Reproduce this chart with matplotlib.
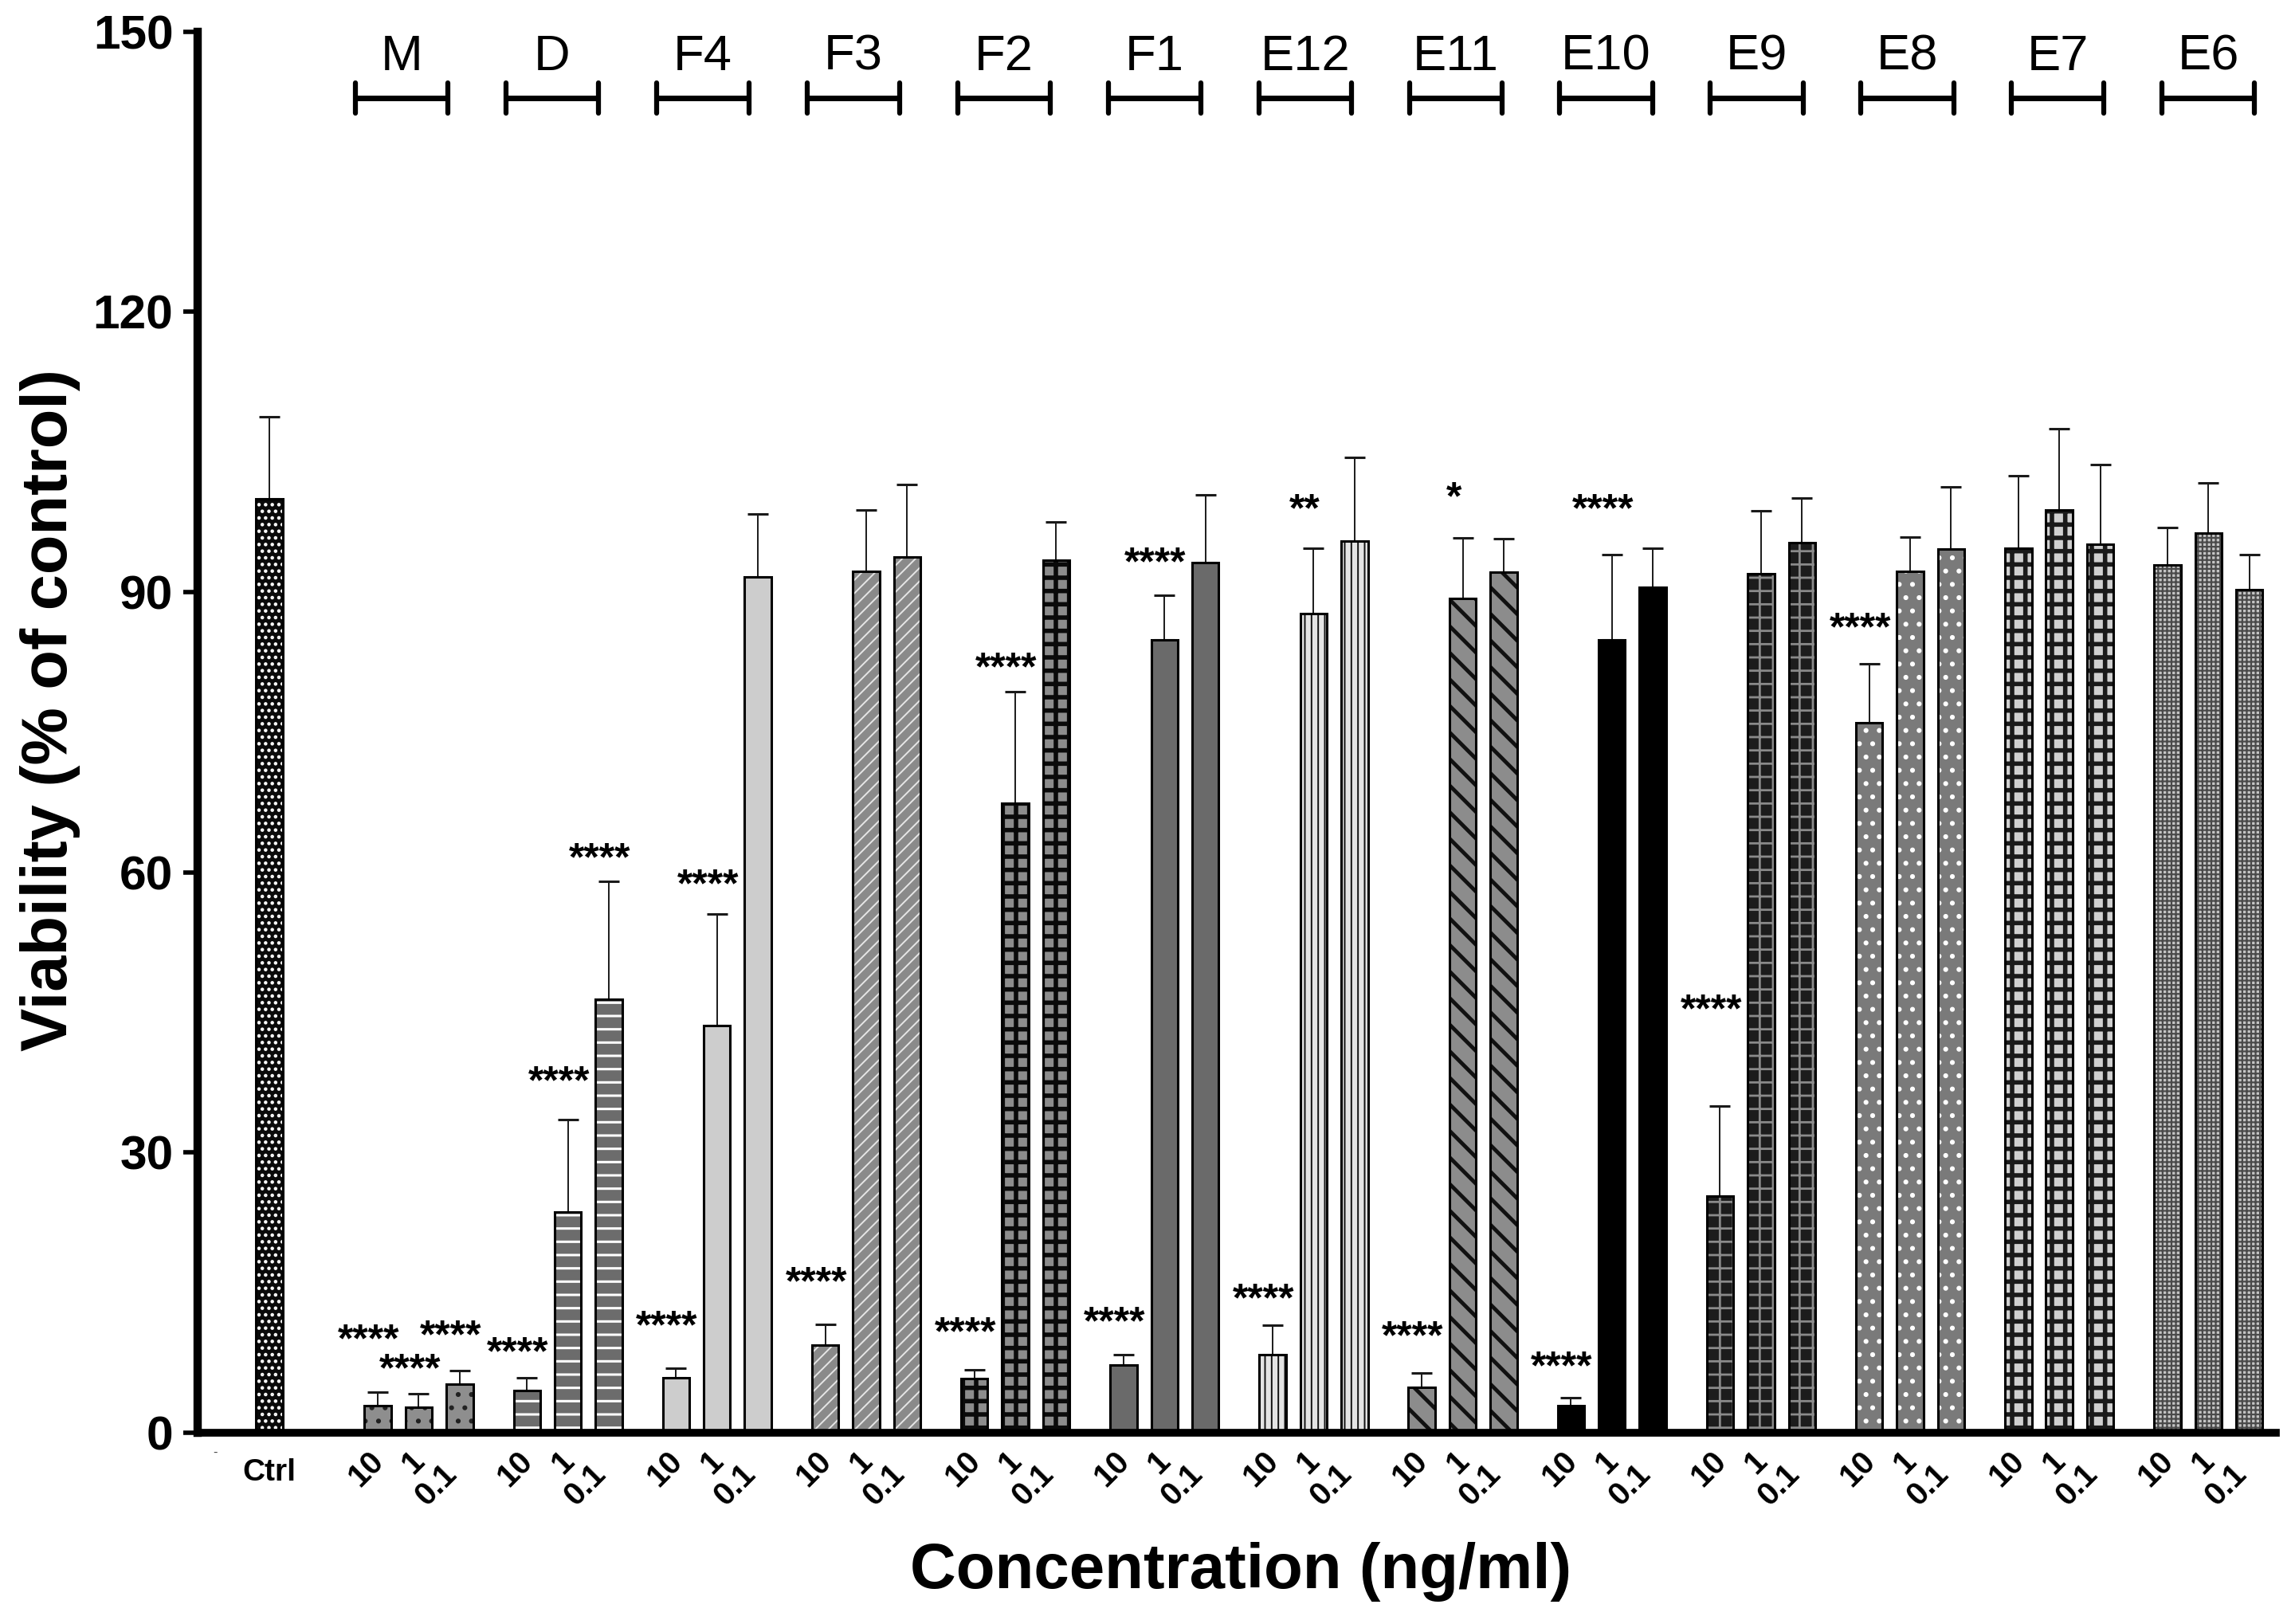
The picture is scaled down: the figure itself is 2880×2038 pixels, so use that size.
import matplotlib
matplotlib.use('Agg')
import matplotlib.pyplot as plt
import numpy as np
from matplotlib.transforms import offset_copy

plt.rcParams['font.family'] = ['Liberation Sans', 'DejaVu Sans']
plt.rcParams['hatch.linewidth'] = 1.5

# ---------------- data ----------------
ctrl_label = 'Ctrl'
ctrl_mean = 100.0
ctrl_sd = 8.8

groups = ['M', 'D', 'F4', 'F3', 'F2', 'F1', 'E12', 'E11', 'E10', 'E9', 'E8', 'E7', 'E6']
concs = ['10', '1', '0.1']

means = [
    [2.9, 2.7, 5.2],     # M
    [4.5, 23.6, 46.4],   # D
    [5.9, 43.6, 91.6],   # F4
    [9.4, 92.2, 93.8],   # F3
    [5.8, 67.4, 93.4],   # F2
    [7.2, 84.9, 93.2],   # F1
    [8.3, 87.7, 95.5],   # E12
    [4.8, 89.3, 92.1],   # E11
    [2.9, 84.9, 90.5],   # E10
    [25.3, 92.0, 95.3],  # E9
    [76.0, 92.2, 94.6],  # E8
    [94.7, 98.8, 95.1],  # E7
    [92.9, 96.3, 90.3],  # E6
]
sds = [
    [1.4, 1.5, 1.4],
    [1.4, 9.9, 12.6],
    [1.0, 11.9, 6.8],
    [2.2, 6.6, 7.7],
    [0.9, 11.9, 4.1],
    [1.1, 4.8, 7.2],
    [3.2, 7.0, 8.9],
    [1.6, 6.5, 3.6],
    [0.8, 9.1, 4.2],
    [9.7, 6.7, 4.8],
    [6.3, 3.7, 6.7],
    [7.8, 8.7, 8.6],
    [4.0, 5.4, 3.7],
]

# significance marks: group, concentration index, label, y of mark centre
star_groups = ['M', 'M', 'M', 'D', 'D', 'D', 'F4', 'F4', 'F3', 'F2', 'F2', 'F1', 'F1',
               'E12', 'E12', 'E11', 'E11', 'E10', 'E10', 'E9', 'E8']
star_conc = [0, 1, 2, 0, 1, 2, 0, 1, 0, 0, 1, 0, 1, 0, 1, 0, 1, 0, 1, 0, 0]
star_text = ['****', '****', '****', '****', '****', '****', '****', '****', '****', '****',
             '****', '****', '****', '****', '**', '****', '*', '****', '****', '****', '****']
star_y = [10.8, 7.6, 11.2, 9.4, 38.4, 62.3, 12.2, 59.5, 16.9, 11.5, 82.7, 12.6, 94.0,
          15.1, 99.7, 11.1, 101.0, 7.9, 99.7, 46.1, 87.0]

yticks = [0, 30, 60, 90, 120, 150]

# ---------------- styles ----------------
# face colour, hatch, hatch colour, hatch linewidth
styles = {
    'Ctrl': ('#0a0a0a', '..', 'white', 2.0),
    'M':   ('#8e8e8e', '.', '#222222', 2.0),
    'D':   ('#6c6c6c', '-', 'white', 2.2),
    'F4':  ('#cdcdcd', None, None, 0),
    'F3':  ('#8a8a8a', '//', '#e6e6e6', 1.4),
    'F2':  ('#8c8c8c', '+', '#0a0a0a', 4.0),
    'F1':  ('#6a6a6a', None, None, 0),
    'E12': ('#e4e4e4', '||', '#111111', 1.4),
    'E11': ('#8c8c8c', '\\', '#111111', 3.5),
    'E10': ('#000000', None, None, 0),
    'E9':  ('#1c1c1c', '+', '#8a8a8a', 2.0),
    'E8':  ('#7a7a7a', '.', 'white', 2.0),
    'E7':  ('#d0d0d0', '+', '#1a1a1a', 4.0),
    'E6':  ('#c4c4c4', '+++', '#4a4a4a', 1.6),
}

W = 0.65
ctrl_gap = 2.647
group_step = 3.642

fig = plt.figure(figsize=(28.8, 20.38), dpi=100)
ax = fig.add_axes([0.0861, 0.1179, 0.9056, 0.8625])


def draw_bar(x, h, sd, key):
    face, hatch, hcol, hlw = styles[key]
    ax.bar(x, h, width=W, color=face, edgecolor='none', linewidth=0, zorder=2)
    if hatch:
        bb = ax.bar(x, h, width=W, facecolor='none', edgecolor=hcol, hatch=hatch,
                    linewidth=0, zorder=2.1)
        for p in bb:
            if hasattr(p, 'set_hatch_linewidth'):
                p.set_hatch_linewidth(hlw)
    ax.bar(x, h, width=W, facecolor='none', edgecolor='black', linewidth=2.2, zorder=2.2)
    ax.errorbar([x], [h], yerr=[[0], [sd]], fmt='none', ecolor='#1a1a1a',
                elinewidth=1.4, capsize=9.5, capthick=2.2, zorder=1.5)


# control
x_ctrl = 0.0
draw_bar(x_ctrl, ctrl_mean, ctrl_sd, 'Ctrl')

positions = {}
for g, name in enumerate(groups):
    for j in range(3):
        x = ctrl_gap + g * group_step + j
        positions[(name, j)] = x
        draw_bar(x, means[g][j], sds[g][j], name)

# axes formatting
ax.set_xlim(-1.753, 49.0)
ax.set_ylim(0, 150)
for s in ['top', 'right']:
    ax.spines[s].set_visible(False)
ax.spines['left'].set_linewidth(7.5)
ax.spines['bottom'].set_linewidth(7.0)
ax.spines['left'].set_capstyle('projecting')
ax.set_yticks(yticks)
ax.set_yticklabels([str(t) for t in yticks], fontsize=43.5, fontweight='bold')
ax.tick_params(axis='y', direction='out', length=13, width=4, pad=9)
ax.set_xticks([])
ax.tick_params(axis='x', length=0)

# x tick labels (rotated concentrations + Ctrl)
fs_tick = 29
for (name, j), x in positions.items():
    if j < 2:
        dx, dy = 15, -16
    else:
        dx, dy = 4, -33
    tr = offset_copy(ax.get_xaxis_transform(), fig=fig, x=dx, y=dy, units='dots')
    ax.text(x, 0, concs[j], transform=tr, rotation=45, ha='right', va='top',
            fontsize=fs_tick, fontweight='bold', clip_on=False)
trc = offset_copy(ax.get_xaxis_transform(), fig=fig, x=0, y=-50, units='dots')
ax.text(x_ctrl, 0, ctrl_label, transform=trc, ha='center', va='center',
        fontsize=28, fontweight='bold', clip_on=False)
trd = offset_copy(ax.get_xaxis_transform(), fig=fig, x=0, y=-26, units='dots')
ax.text(-1.32, 0, '-', transform=trd, ha='center', va='center', fontsize=12,
        color='#444444', clip_on=False)

# significance stars
fs_star = 36
tr_star = offset_copy(ax.transData, fig=fig, x=0, y=-0.495 * fs_star, units='points')
for gname, j, txt, y in zip(star_groups, star_conc, star_text, star_y):
    x = positions[(gname, j)] - 0.22
    ax.text(x, y, txt, transform=tr_star, ha='center', va='baseline',
            fontsize=fs_star, fontweight='bold', clip_on=False, zorder=5)

# group brackets and labels
br_y = 142.9
br_cap = 1.65
br_half = 1.13
for g, name in enumerate(groups):
    center = positions[(name, 1)] - 0.42 * (12 - g) / 12.0
    ax.plot([center - br_half, center + br_half], [br_y, br_y], color='black',
            lw=5, solid_capstyle='butt', clip_on=False)
    for xe in (center - br_half, center + br_half):
        ax.plot([xe, xe], [br_y - br_cap, br_y + br_cap], color='black', lw=4.5,
                solid_capstyle='round', clip_on=False)
    ax.text(center, 145.9, name, ha='center', va='baseline', fontsize=45.5,
            clip_on=False)

# axis labels
ax.set_xlabel('Concentration (ng/ml)', fontsize=57.5, fontweight='bold')
ax.xaxis.set_label_coords(0.502, -0.111)
ax.xaxis.label.set_va('baseline')
ax.set_ylabel('Viability (% of control)', fontsize=58.5, fontweight='bold')
ax.yaxis.set_label_coords(-0.0709, 0.516)
ax.yaxis.label.set_va('center')

fig.savefig('out.png', dpi=100)
